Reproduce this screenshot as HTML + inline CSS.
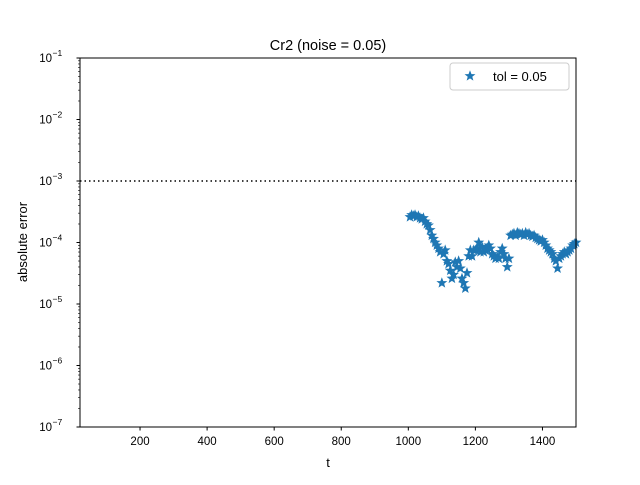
<!DOCTYPE html>
<html><head><meta charset="utf-8"><style>
body{margin:0;background:#fff}
svg{font-family:"Liberation Sans",sans-serif}
</style></head><body>
<svg id="chart" width="640" height="480" viewBox="0 0 640 480" xmlns="http://www.w3.org/2000/svg">
<rect width="640" height="480" fill="#fff"/>
<text x="328" y="50" text-anchor="middle" font-size="14.5">Cr2 (noise = 0.05)</text>
<g id="axes"></g>
<g id="marks"></g>
<line id="tolline" stroke="#000" stroke-width="1.5" stroke-dasharray="1.5,3"/>
<rect x="80" y="58" width="496" height="369" fill="none" stroke="#000" stroke-width="1"/>
<text x="328" y="467" text-anchor="middle" font-size="13">t</text>
<text transform="translate(27,242) rotate(-90)" text-anchor="middle" font-size="13">absolute error</text>
<g>
<rect x="450" y="63" width="119" height="27" rx="3" fill="#fff" stroke="#ccc"/>
<g id="legstar"></g>
<text x="493" y="81" font-size="13">tol = 0.05</text>
</g>
</svg>
<script>
const xTicks=[200,400,600,800,1000,1200,1400];
const yTickExps=[-1,-2,-3,-4,-5,-6,-7];
const tolValue=1e-3;
const tValues=[1005,1010,1015,1020,1025,1030,1035,1040,1045,1050,1055,1060,1065,1070,1075,1080,1085,1090,1095,1100,1105,1110,1115,1120,1125,1130,1135,1140,1145,1150,1155,1160,1165,1170,1175,1180,1185,1190,1195,1200,1205,1210,1215,1220,1225,1230,1235,1240,1245,1250,1255,1260,1265,1270,1275,1280,1285,1290,1295,1300,1305,1310,1315,1320,1325,1330,1335,1340,1345,1350,1355,1360,1365,1370,1375,1380,1385,1390,1395,1400,1405,1410,1415,1420,1425,1430,1435,1440,1445,1450,1455,1460,1465,1470,1475,1480,1485,1490,1495,1500];
const errValues=[2.6e-4,2.8e-4,2.7e-4,2.8e-4,2.6e-4,2.7e-4,2.5e-4,2.4e-4,2.5e-4,2.2e-4,2.0e-4,1.9e-4,1.6e-4,1.3e-4,1.15e-4,1.0e-4,9e-5,8e-5,7e-5,2.2e-5,6.5e-5,7.5e-5,5e-5,4.5e-5,3.5e-5,2.6e-5,3e-5,4.8e-5,4e-5,5e-5,3.8e-5,2.6e-5,2.2e-5,1.8e-5,3.2e-5,6e-5,7.5e-5,6e-5,7.5e-5,7.5e-5,8e-5,1.0e-4,7e-5,8.5e-5,7e-5,7.5e-5,8e-5,9e-5,8e-5,6.5e-5,6e-5,5.5e-5,5.8e-5,5.5e-5,7e-5,8e-5,6.5e-5,5.5e-5,4e-5,5.5e-5,1.3e-4,1.35e-4,1.4e-4,1.3e-4,1.45e-4,1.4e-4,1.35e-4,1.4e-4,1.3e-4,1.45e-4,1.35e-4,1.4e-4,1.3e-4,1.25e-4,1.3e-4,1.2e-4,1.15e-4,1.1e-4,1.05e-4,1.1e-4,1.0e-4,9e-5,8e-5,7.5e-5,7e-5,6.5e-5,5.5e-5,5e-5,3.8e-5,5.5e-5,6e-5,6.5e-5,7e-5,6.5e-5,7e-5,7.5e-5,8e-5,9e-5,9.5e-5,1.0e-4];

const NS="http://www.w3.org/2000/svg";
const X0=80,X1=576,Y0=58,Y1=427,TMIN=21,TMAX=1500,EMAX=-1,EMIN=-7;
function xs(t){return X0+(t-TMIN)/(TMAX-TMIN)*(X1-X0);}
function ys(v){return Y0+(EMAX-Math.log10(v))/(EMAX-EMIN)*(Y1-Y0);}
function mk(tag,attrs,parent){const e=document.createElementNS(NS,tag);for(const k in attrs)e.setAttribute(k,attrs[k]);parent.appendChild(e);return e;}
function starPts(cx,cy,r){let p=[];for(let i=0;i<10;i++){const a=-Math.PI/2+i*Math.PI/5;const rr=i%2?r*0.42:r;p.push((cx+rr*Math.cos(a)).toFixed(2)+","+(cy+rr*Math.sin(a)).toFixed(2));}return p.join(" ");}
const axes=document.getElementById('axes');
xTicks.forEach(t=>{const x=xs(t);
 const l=mk('line',{x1:x,x2:x,y1:Y1,y2:Y1+3.5,stroke:'#000'},axes);
 
 
 const tx=mk('text',{x:x,y:Y1+18,'text-anchor':'middle','font-size':'11.5'},axes);tx.textContent=t;
 
 
});
yTickExps.forEach(e=>{const y=ys(Math.pow(10,e));
 const l=mk('line',{x1:X0-3.5,x2:X0,y1:y,y2:y,stroke:'#000'},axes);
 
 
 const tx=mk('text',{x:52,y:y+4,'text-anchor':'end','font-size':'11.5'},axes);
 
 
 tx.textContent='10';
 const ex=mk('text',{x:52.5,y:y-2,'text-anchor':'start','font-size':'8.5'},axes);
 ex.textContent='−'+(-e);
 
 
 if(e>EMIN){for(let m=2;m<10;m++){const yy=ys(m*Math.pow(10,e-1));
  const ml=mk('line',{x1:X0-2,x2:X0,y1:yy,y2:yy,stroke:'#000','stroke-width':0.6},axes);
  
  }}
});
const tl=document.getElementById('tolline');
tl.setAttribute('x1',X0);tl.setAttribute('x2',X1);tl.setAttribute('y1',ys(tolValue));tl.setAttribute('y2',ys(tolValue));
const marks=document.getElementById('marks');
tValues.forEach((t,i)=>{const x=xs(t);if(x>X1+4)return;
 const p=mk('polygon',{points:starPts(x,ys(errValues[i]),4.6),fill:'#1f77b4',stroke:'#1f77b4','stroke-width':0.8},marks);
 
 
});
const ls=mk('polygon',{points:starPts(470,76,4.6),fill:'#1f77b4',stroke:'#1f77b4','stroke-width':0.8},document.getElementById('legstar'));


</script>
</body></html>
